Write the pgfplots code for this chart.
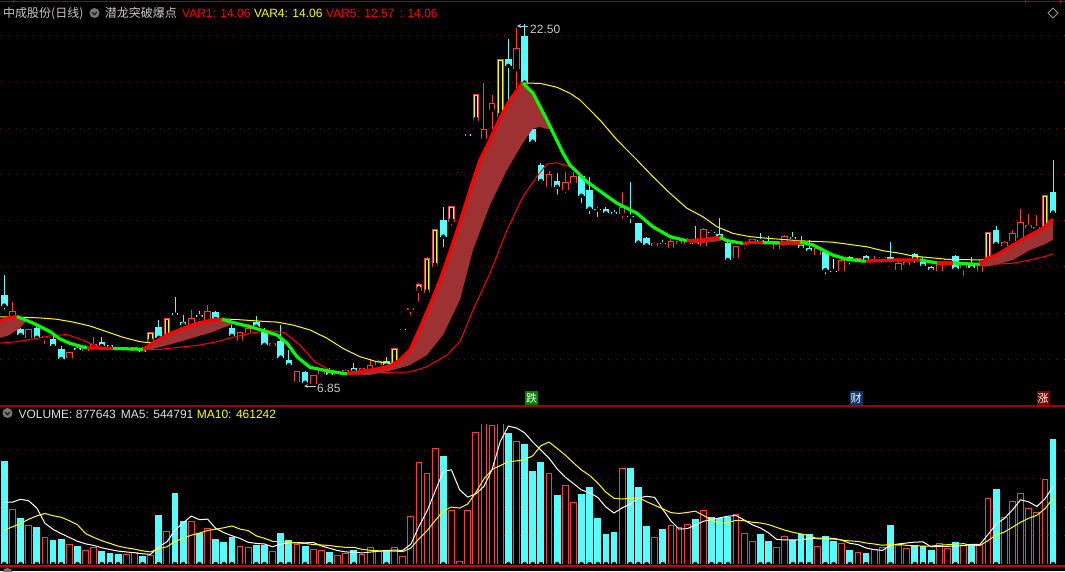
\documentclass[border=0pt]{standalone}
\usepackage{pgfplots}
\pgfplotsset{compat=1.18}
\usepackage{pgfplotstable}
\usepackage{fontspec}
\setmainfont{Liberation Sans}
\newfontfamily\cjk{Noto Sans CJK SC}

\definecolor{cy}{RGB}{84,255,255}
\definecolor{rd}{RGB}{255,60,60}
\definecolor{lred}{RGB}{255,0,0}
\definecolor{yl}{RGB}{255,255,0}
\definecolor{gn}{RGB}{0,255,0}
\definecolor{band}{RGB}{158,50,50}
\definecolor{gridc}{RGB}{140,0,0}
\definecolor{txt}{RGB}{200,200,200}
\definecolor{sep}{RGB}{165,0,0}
\definecolor{botline}{RGB}{200,0,0}
\definecolor{diam}{RGB}{150,150,150}
\definecolor{iconc}{RGB}{120,120,120}
\definecolor{chev}{RGB}{30,30,30}
\definecolor{cgreen}{RGB}{0,128,0}
\definecolor{cblue}{RGB}{16,56,104}
\definecolor{cdred}{RGB}{128,0,0}
\definecolor{vtxt}{RGB}{225,225,225}

\pgfplotsset{
  wick/.style={only marks, mark=none, forget plot,
    error bars/y dir=plus, error bars/y explicit, error bars/error mark=none,
    error bars/error bar style={line width=1pt, draw=#1, solid}},
  body/.style 2 args={only marks, mark=none, forget plot,
    error bars/y dir=plus, error bars/y explicit, error bars/error mark=none,
    error bars/error bar style={line width=#2, draw=#1, solid}},
  bare/.style={scale only axis, width=1065pt, anchor=south west,
    xmin=-0.529, xmax=130.47,
    axis line style={draw=none}, tick style={draw=none}, major tick length=0pt,
    xtick=\empty, yticklabels={}, clip=true},
  pricepanel/.style={bare, at={(0pt,169pt)}, height=382pt, ymin=6.148, ymax=22.693},
  volpanel/.style={bare, at={(0pt,7pt)}, height=139pt, ymin=0, ymax=978.9},
  dotgrid/.style={ymajorgrids, grid style={draw=gridc, line width=1pt, dash pattern=on 1.2pt off 6.8pt}},
  trend/.style={line width=3.2pt, line join=round},
}

% ---------- candles (up, hollow red) ----------
\pgfplotstableread{
i O H L C
1 9.82 10.48 9.79 10.09
3 8.93 9.32 8.72 9.30
5 8.91 9.05 8.57 9.00
8 8.07 8.32 7.99 8.30
10 8.36 8.60 8.33 8.52
11 8.52 8.95 8.50 8.65
15 8.40 8.50 8.38 8.45
16 8.37 8.55 8.21 8.52
23 9.48 10.13 9.45 9.77
25 9.67 10.35 9.65 10.09
29 8.80 9.20 8.78 9.18
30 9.12 9.53 9.10 9.37
33 8.59 8.76 8.40 8.69
36 7.02 7.50 7.00 7.49
38 6.94 7.32 6.88 7.30
39 7.36 7.56 7.15 7.54
41 7.32 7.50 7.30 7.46
42 7.39 7.56 7.37 7.54
44 7.46 7.63 7.44 7.61
45 7.57 8.01 7.55 7.74
46 7.74 7.95 7.72 7.92
59 17.53 19.95 17.50 17.97
60 18.80 19.45 17.86 19.09
63 20.56 22.33 19.66 21.47
67 15.47 16.15 15.29 16.02
69 15.33 16.09 15.11 15.66
70 15.62 16.12 15.43 15.94
76 14.29 15.24 14.03 14.61
80 12.92 13.08 12.83 13.02
82 12.81 13.22 12.66 13.12
83 12.98 13.22 12.79 13.13
84 12.98 13.25 12.95 13.21
86 12.92 13.70 12.90 13.63
90 12.40 12.92 12.34 12.90
91 12.93 13.05 12.70 13.00
92 13.05 13.22 13.00 13.20
95 12.78 13.05 12.70 13.02
96 13.11 13.36 12.85 13.34
100 12.53 12.83 12.37 12.81
103 11.83 12.32 11.80 12.30
105 12.21 12.40 12.18 12.37
107 12.20 12.47 12.18 12.34
108 12.40 12.50 12.30 12.42
110 11.86 12.20 11.75 12.18
111 12.08 12.25 12.05 12.22
115 11.83 12.18 11.75 12.16
118 11.94 12.20 11.53 12.16
120 11.79 12.34 11.77 12.08
123 12.92 13.10 12.73 13.07
124 13.12 13.60 13.10 13.46
125 13.24 14.51 13.20 13.93
126 13.69 14.29 13.52 13.80
127 13.63 14.25 13.60 13.73
}\candR

% ---------- candles (up, yellow signal) ----------
\pgfplotstableread{
i O H L C
18 8.75 9.18 8.75 9.18
20 8.80 9.79 8.80 9.79
48 7.63 8.47 7.63 8.47
50 10.15 10.25 9.82 10.24
51 10.97 11.30 10.42 11.26
52 10.86 12.42 10.86 12.39
53 12.01 13.64 12.01 13.63
55 13.96 14.64 13.70 14.64
58 18.33 19.49 18.33 19.48
61 18.51 21.00 18.51 20.99
121 12.27 13.50 12.27 13.50
128 13.52 15.10 13.52 15.10
}\candY

% ---------- one-price days ----------
\pgfplotstableread{
i P
49 9.30
56 16.10
57 17.71
}\candD

% ---------- flat days ----------
\pgfplotstableread{
i O H L C
102 11.82 12.34 11.82 11.82
116 12.30 12.40 12.20 12.30
}\candW

% ---------- candles (down, cyan) ----------
\pgfplotstableread{
i O H L C
0 10.78 11.65 10.06 10.32
2 9.31 9.35 9.00 9.05
4 9.35 9.40 8.90 8.93
6 8.87 9.05 8.55 8.57
7 8.44 8.57 7.98 8.01
9 8.48 8.57 8.32 8.40
12 8.75 8.95 8.55 8.57
13 8.60 8.63 8.50 8.52
14 8.52 8.55 8.38 8.40
17 8.49 8.55 8.28 8.31
19 9.41 9.70 8.90 8.93
21 10.02 10.70 9.90 9.93
22 9.61 9.92 9.48 9.50
24 9.90 10.09 9.63 9.85
26 10.05 10.10 9.70 9.74
27 9.55 9.60 9.40 9.45
28 9.35 9.47 8.89 9.01
31 9.61 9.87 9.38 9.41
32 9.19 9.37 8.60 8.62
34 8.79 9.48 8.05 8.07
35 7.97 8.40 7.65 7.75
37 7.43 7.50 6.85 6.98
40 7.54 7.63 7.24 7.32
43 7.63 7.82 7.47 7.49
47 7.92 8.08 7.73 7.75
54 14.03 14.59 12.76 13.31
62 21.00 21.86 18.80 20.71
64 22.00 22.50 19.90 19.98
65 17.97 18.15 17.40 17.42
66 16.41 16.51 15.70 15.72
68 15.71 16.05 15.04 15.47
71 15.94 15.96 14.68 15.08
72 15.33 15.88 14.20 14.52
73 14.51 14.61 14.07 14.47
74 14.51 14.60 14.29 14.32
75 14.37 14.46 14.17 14.29
77 14.21 15.68 13.81 14.17
78 13.89 13.90 12.95 13.05
79 13.24 13.31 12.87 12.93
81 13.00 13.16 12.77 12.97
85 13.05 13.77 12.95 13.00
87 13.52 13.60 13.31 13.48
88 13.44 14.12 13.27 13.29
89 13.05 13.10 12.25 12.30
93 13.15 13.47 12.95 13.12
94 13.12 13.34 12.87 13.02
97 13.28 13.51 13.13 13.21
98 12.94 13.34 12.76 12.83
99 12.81 13.16 12.65 12.68
101 12.66 12.70 11.58 11.86
104 12.44 12.46 12.01 12.27
106 12.47 12.50 12.28 12.30
109 12.42 13.09 12.20 12.21
112 12.55 12.59 12.08 12.34
113 12.21 12.44 11.94 12.04
114 12.01 12.05 11.85 11.86
117 12.47 12.50 11.88 11.90
119 12.16 12.44 11.90 11.94
122 13.60 13.77 12.92 12.99
129 15.24 16.63 14.30 14.35
}\candC

% ---------- volume (thousands) ----------
\pgfplotstableread{
i v
1 386
3 273
5 188
8 139
10 96
11 118
15 68
16 85
18 61
20 233
23 304
25 252
29 125
30 118
33 92
36 139
38 106
39 96
41 61
42 75
44 68
45 118
46 92
48 118
49 54
50 336
51 718
52 640
53 816
55 379
56 19
57 379
58 932
59 1020
60 980
61 1000
63 866
67 640
69 554
70 434
76 673
80 188
82 272
83 258
84 279
86 378
90 350
91 216
92 160
95 117
96 195
100 124
103 146
105 82
107 103
108 117
110 134
111 113
115 146
116 113
118 134
120 141
121 462
123 328
124 443
125 497
126 392
127 364
128 596
}\volR

\pgfplotstableread{
i v
0 727
2 325
4 261
6 172
7 176
9 127
12 92
13 78
14 71
17 56
19 346
21 501
22 304
24 219
26 176
27 155
28 191
31 134
32 136
34 219
35 169
37 127
40 85
43 99
47 96
54 762
62 925
64 847
65 656
66 720
68 486
71 493
72 542
73 324
74 211
75 225
77 676
78 542
79 267
81 246
85 317
87 331
88 321
89 331
93 211
94 162
97 167
98 211
99 211
101 197
102 162
104 99
106 77
109 274
112 134
113 127
114 99
117 155
119 141
122 528
129 880
}\volC

\pgfplotstableread{
i m5 m10
0 435 240
1 435 262
2 456 285
3 445 315
4 394 339
5 287 356
6 244 340
7 214 329
8 187 305
9 160 277
10 142 214
11 131 188
12 114 164
13 102 145
14 91 126
15 85 114
16 79 105
17 72 93
18 68 85
19 123 107
20 156 121
21 239 159
22 289 180
23 338 203
24 312 218
25 316 236
26 251 245
27 221 255
28 199 268
29 180 246
30 153 235
31 145 198
32 141 181
33 121 160
34 140 160
35 150 152
36 151 148
37 149 145
38 152 137
39 127 134
40 111 130
41 95 123
42 85 117
43 83 118
44 78 103
45 84 97
46 90 93
47 95 90
48 98 91
49 96 87
50 139 112
51 264 177
52 373 234
53 513 306
54 654 375
55 663 401
56 523 394
57 471 422
58 494 504
59 546 600
60 666 665
61 862 693
62 971 721
63 958 726
64 924 735
65 859 762
66 803 833
67 746 859
68 670 814
69 611 767
70 567 713
71 521 662
72 502 624
73 469 570
74 401 506
75 359 463
76 395 458
77 422 462
78 465 467
79 477 439
80 469 414
81 384 389
82 303 362
83 246 356
84 249 363
85 274 372
86 301 342
87 313 308
88 325 286
89 336 292
90 342 308
91 310 305
92 276 294
93 254 289
94 220 278
95 173 258
96 169 239
97 170 223
98 170 212
99 180 200
100 182 177
101 182 176
102 181 176
103 168 169
104 146 163
105 137 159
106 113 148
107 101 141
108 96 132
109 131 138
110 141 139
111 148 131
112 154 128
113 156 126
114 121 126
115 124 132
116 124 136
117 128 141
118 129 143
119 138 130
120 137 130
121 207 165
122 281 205
123 320 225
124 380 259
125 452 294
126 438 322
127 405 343
128 458 389
129 546 463
}\vma

\begin{document}
\begin{tikzpicture}
\useasboundingbox (0,0) rectangle (1065pt,571pt);
\fill[black] (0,0) rectangle (1065pt,571pt);

% ================= price panel: grid + candles =================
\begin{axis}[pricepanel, dotgrid, ytick={8,10,...,22}]
% wicks
\addplot[wick=rd] table[x=i, y=L, y error plus expr={\thisrow{H}-\thisrow{L}}]{\candR};
\addplot[wick=rd] table[x=i, y=L, y error plus expr={\thisrow{H}-\thisrow{L}}]{\candY};
\addplot[wick=cy] table[x=i, y=L, y error plus expr={\thisrow{H}-\thisrow{L}}]{\candC};
\addplot[wick=white] table[x=i, y=L, y error plus expr={\thisrow{H}-\thisrow{L}}]{\candW};
% bodies
\addplot[body={cy}{6.6pt}] table[x=i, y=C, y error plus expr={max(\thisrow{O}-\thisrow{C},0.045)}]{\candC};
\addplot[body={rd}{6.6pt}] table[x=i, y=O, y error plus expr={max(\thisrow{C}-\thisrow{O},0.045)}]{\candR};
\addplot[body={black}{4.6pt}] table[x=i, y expr={\thisrow{O}+0.0433}, y error plus expr={max(\thisrow{C}-\thisrow{O}-0.0866,0)}]{\candR};
\addplot[body={rd}{6.6pt}] table[x=i, y=O, y error plus expr={max(\thisrow{C}-\thisrow{O},0.045)}]{\candY};
\addplot[body={yl}{4.6pt}] table[x=i, y expr={\thisrow{O}+0.0433}, y error plus expr={max(\thisrow{C}-\thisrow{O}-0.0866,0)}]{\candY};
\addplot[body={black}{2.6pt}] table[x=i, y expr={\thisrow{O}+0.0866}, y error plus expr={max(\thisrow{C}-\thisrow{O}-0.1732,0)}]{\candY};
\addplot[only marks, mark=none, forget plot, error bars/x dir=both, error bars/x fixed=0.36,
  error bars/error mark=none, error bars/error bar style={line width=1.4pt, draw=yl, solid}]
  table[x=i, y=P]{\candD};
\addplot[only marks, mark=none, forget plot, error bars/x dir=both, error bars/x fixed=0.40,
  error bars/error mark=none, error bars/error bar style={line width=1pt, draw=white, solid}]
  table[x=i, y=O]{\candW};
\end{axis}

% ================= price panel: indicator lines (on top) =================
\begin{axis}[pricepanel, ytick=\empty]
% yellow line
\addplot[yl, line width=1pt, line join=round] coordinates {
(-0.53,9.83) (1.19,9.84) (1.56,9.85) (1.93,9.82) (4.39,9.79) (6.48,9.73) (8.45,9.61) (10.54,9.44)
(12.63,9.19) (14.60,8.95) (16.69,8.76) (18.29,8.70) (20.01,9.05) (21.98,9.34) (24.07,9.59)
(25.67,9.70) (26.78,9.74) (28.13,9.73) (32.31,9.63) (33.54,9.61) (35.51,9.48) (37.60,9.27)
(39.69,8.91) (41.66,8.47) (43.75,8.11) (45.84,7.89) (47.44,7.82) (48.3,7.85) (48.67,7.97)
(49.90,8.40) (51.13,9.35) (52.36,10.35) (53.59,11.43) (54.82,12.65) (56.05,13.94) (57.28,15.33)
(58.51,16.63) (59.74,17.50) (60.97,18.45) (62.20,19.23) (63.43,19.83) (63.80,19.96) (65.89,19.95)
(67.98,19.78) (69.58,19.52) (70.81,19.23) (73.27,18.36) (75.36,17.50) (77.82,16.63) (79.79,15.91)
(81.88,15.19) (83.97,14.54) (85.94,14.17) (87.66,13.74) (89.63,13.45) (91.72,13.31) (93.81,13.24)
(97.87,13.13) (101.93,13.07) (106.11,12.87) (108.08,12.70) (110.17,12.59) (111.77,12.47)
(115.95,12.33) (120.01,12.30) (120.6,12.32) (120.87,12.37) (122.10,12.52) (124.07,12.95)
(126.16,13.38) (127.76,13.67) (128.99,14.06)};

% thin red line
\addplot[lred, line width=1pt, line join=round] coordinates {
(-0.53,8.70) (1.56,8.76) (3.53,8.88) (5.62,9.01) (7.71,9.07) (9.68,8.83) (11.77,8.49) (16.69,8.40)
(19.15,8.43) (21.61,8.52) (24.07,8.62) (26.16,8.76) (28.13,8.95) (30.59,9.15) (32.68,9.24)
(34.53,9.14) (36.37,8.62) (38.22,7.88) (40.06,7.53) (41.90,7.36) (43.75,7.36) (46.58,7.43)
(49.90,7.45) (51.99,7.68) (54.45,8.18) (56.05,8.76) (57.65,10.13) (59.74,11.72) (61.83,13.60)
(63.80,15.04) (65.52,15.91) (66.75,16.46) (67.98,16.51) (69.58,16.34)};
\addplot[lred, line width=1pt, line join=round] coordinates {
(117.55,12.19) (120.01,12.08) (122.06,12.12) (124.07,12.16) (126.16,12.30) (128.21,12.47) (128.99,12.57)};

% band fills
\addplot[fill=band, draw=none] coordinates {
(-0.53,9.66) (0.46,9.79) (1.56,9.85) (1.93,9.80) (2.67,9.64) (1.93,9.35) (0.46,9.02) (-0.53,8.93)} --cycle;
\addplot[fill=band, draw=none] coordinates {
(17.06,8.43) (18.29,8.70) (20.01,9.05) (21.98,9.34) (24.07,9.59) (25.67,9.70) (26.78,9.74) (28.13,9.59)
(28.4,9.55) (26.78,9.35) (25.67,9.18) (24.07,9.02) (21.98,8.80) (20.01,8.60) (18.29,8.45) (17.06,8.41)} --cycle;
\addplot[fill=band, draw=none] coordinates {
(42.15,7.38) (43.75,7.46) (45.84,7.58) (47.44,7.71) (48.67,7.97) (49.90,8.40) (51.13,9.35) (52.36,10.35)
(53.59,11.43) (54.82,12.65) (56.05,13.94) (57.28,15.33) (58.51,16.63) (59.74,17.50) (60.97,18.45)
(62.20,19.23) (63.43,19.83) (63.80,19.96) (65.03,19.53) (66.75,18.36) (67.3,17.95)
(66.75,17.98) (65.89,18.06) (65.03,18.00) (63.80,17.37) (61.83,16.20) (59.74,14.68) (57.65,12.73)
(56.05,10.57) (53.96,9.05) (51.99,8.18) (49.90,7.75) (47.81,7.53) (44.98,7.32) (42.15,7.35)} --cycle;
\addplot[fill=band, draw=none] coordinates {
(83.97,13.13) (85.57,13.17) (88.03,13.28) (88.5,13.20) (88.03,13.12) (85.57,13.02) (83.97,13.08)} --cycle;
\addplot[fill=band, draw=none] coordinates {
(93.32,13.05) (95.41,13.04) (97.87,13.07) (98.5,13.02) (97.87,12.95) (95.41,12.95) (93.32,13.00)} --cycle;
\addplot[fill=band, draw=none] coordinates {
(119.6,12.12) (120.01,12.17) (120.87,12.37) (122.10,12.52) (124.07,12.95) (126.16,13.38) (127.76,13.67)
(128.99,14.06) (128.99,13.17) (127.76,12.95) (126.16,12.73) (124.07,12.30) (122.10,12.10) (120.87,12.01)
(120.01,12.06) (119.6,12.10)} --cycle;

% thick trend line (red rising / green falling)
\addplot[lred, trend] coordinates {(-0.53,9.66) (0.46,9.79) (1.56,9.85)};
\addplot[gn, trend] coordinates {(1.56,9.85) (3.53,9.57) (5.62,9.20) (6.85,8.88) (8.08,8.69) (9.68,8.53) (10.17,8.49)};
\addplot[lred, trend] coordinates {(10.17,8.49) (13.37,8.47)};
\addplot[gn, trend] coordinates {(13.37,8.47) (17.06,8.43)};
\addplot[lred, trend] coordinates {(17.06,8.43) (18.29,8.70) (20.01,9.05) (21.98,9.34) (24.07,9.59) (25.67,9.70) (26.78,9.74)};
\addplot[gn, trend] coordinates {(26.78,9.74) (28.13,9.59) (30.22,9.41) (31.82,9.24) (33.54,9.05) (34.77,8.70) (36.00,8.11) (37.60,7.65) (39.69,7.50) (41.66,7.39) (42.15,7.38)};
\addplot[lred, trend] coordinates {(42.15,7.38) (43.75,7.46) (45.84,7.58) (47.44,7.71) (48.67,7.97) (49.90,8.40) (51.13,9.35) (52.36,10.35) (53.59,11.43) (54.82,12.65) (56.05,13.94) (57.28,15.33) (58.51,16.63) (59.74,17.50) (60.97,18.45) (62.20,19.23) (63.43,19.83) (63.80,19.96)};
\addplot[gn, trend] coordinates {(63.80,19.96) (65.03,19.53) (66.75,18.36) (68.72,16.93) (69.58,16.41) (71.67,15.69) (73.64,15.19) (75.36,14.76) (76.59,14.54) (77.82,14.32) (79.79,13.74) (81.88,13.31) (83.97,13.13)};
\addplot[lred, trend] coordinates {(83.97,13.13) (85.57,13.17) (88.03,13.28)};
\addplot[gn, trend] coordinates {(88.03,13.28) (88.89,13.14) (90.86,13.02)};
\addplot[lred, trend] coordinates {(90.86,13.02) (91.72,13.05) (93.32,13.05)};
\addplot[gn, trend] coordinates {(93.32,13.05) (95.41,13.04)};
\addplot[lred, trend] coordinates {(95.41,13.04) (97.87,13.07)};
\addplot[gn, trend] coordinates {(97.87,13.07) (99.47,12.95) (100.70,12.73) (101.93,12.51) (103.65,12.33) (105.62,12.25) (105.99,12.25)};
\addplot[lred, trend] coordinates {(105.99,12.25) (109.80,12.30) (112.63,12.30)};
\addplot[gn, trend] coordinates {(112.63,12.30) (114.72,12.17)};
\addplot[lred, trend] coordinates {(114.72,12.17) (116.69,12.17)};
\addplot[gn, trend] coordinates {(116.69,12.17) (119.15,12.12) (120.01,12.12)};
\addplot[lred, trend] coordinates {(120.01,12.12) (120.87,12.37) (122.10,12.52) (124.07,12.95) (126.16,13.38) (127.76,13.67) (128.99,14.06)};
\end{axis}

% ================= volume panel =================
\begin{axis}[volpanel, dotgrid, ytick={200,400,600,800}]
\addplot[body={cy}{6.8pt}] table[x=i, y expr=0, y error plus=v]{\volC};
\addplot[body={rd}{6.8pt}] table[x=i, y expr=0, y error plus=v]{\volR};
\addplot[body={black}{4.8pt}] table[x=i, y expr=0, y error plus expr={\thisrow{v}-7.04}]{\volR};
\end{axis}
\begin{axis}[volpanel, ytick=\empty]
\addplot[white, line width=1pt, line join=round] table[x=i, y=m5]{\vma};
\addplot[yl, line width=1pt, line join=round] table[x=i, y=m10]{\vma};
\end{axis}

% ================= frame / texts =================
\draw[sep, line width=1pt] (0pt,569pt) -- (1065pt,569pt);
\foreach \xx in {13,1025,1060} \draw[sep, line width=1pt] (\xx pt,567.5pt) -- (\xx pt,571pt);
\draw[sep, line width=1.2pt] (0pt,165pt) -- (1065pt,165pt);
\draw[botline, line width=1.5pt] (0pt,5pt) -- (1065pt,5pt);
\draw[diam, line width=0.8pt] (1053pt,563pt) -- (1058pt,558pt) -- (1053pt,553pt) -- (1048pt,558pt) -- cycle;
\fill[iconc] (7.5pt,-2pt) circle (5pt);

\node[anchor=base west, inner sep=0pt, text=txt, font=\cjk\fontsize{12pt}{14pt}\selectfont] at (3pt,553.5pt) {中成股份(日线)};
\fill[iconc] (94.5pt,558pt) circle (5pt);
\draw[chev, line width=1.3pt] (92pt,559pt) -- (94.5pt,556.3pt) -- (97pt,559pt);
\node[anchor=base west, inner sep=0pt, text=txt, font=\cjk\fontsize{12pt}{14pt}\selectfont] at (104.7pt,553.5pt) {潜龙突破爆点};
\node[anchor=base west, inner sep=0pt, text=lred, font=\fontsize{12pt}{14pt}\selectfont] at (182pt,553.5pt) {VAR1: 14.06};
\node[anchor=base west, inner sep=0pt, text=yl, font=\fontsize{12pt}{14pt}\selectfont] at (254pt,553.5pt) {VAR4: 14.06};
\node[anchor=base west, inner sep=0pt, text=lred, font=\fontsize{12pt}{14pt}\selectfont] at (326pt,553.5pt) {VAR5: 12.57\, : 14.06};

\fill[iconc] (7.5pt,158pt) circle (5pt);
\draw[chev, line width=1.3pt] (5pt,159pt) -- (7.5pt,156.3pt) -- (10pt,159pt);
\node[anchor=base west, inner sep=0pt, text=vtxt, font=\fontsize{12pt}{14pt}\selectfont] at (18.3pt,153pt) {VOLUME: 877643};
\node[anchor=base west, inner sep=0pt, text=vtxt, font=\fontsize{12pt}{14pt}\selectfont] at (120.7pt,153pt) {MA5: 544791};
\node[anchor=base west, inner sep=0pt, text=yl, font=\fontsize{12pt}{14pt}\selectfont] at (196.7pt,153pt) {MA10: 461242};

% high / low marks
\draw[txt, line width=0.8pt, -stealth] (528pt,545pt) -- (517pt,545pt);
\node[anchor=base west, inner sep=0pt, text=txt, font=\fontsize{12pt}{14pt}\selectfont] at (530pt,537pt) {22.50};
\draw[txt, line width=0.8pt, -stealth] (316pt,185pt) -- (304pt,185pt);
\node[anchor=base west, inner sep=0pt, text=txt, font=\fontsize{12pt}{14pt}\selectfont] at (317pt,179pt) {6.85};

% event labels
\node[fill=cgreen, text=white, inner sep=0pt, minimum width=13pt, minimum height=14pt, font=\cjk\fontsize{11pt}{11pt}\selectfont] at (531.5pt,173pt) {跌};
\node[fill=cblue, text=white, inner sep=0pt, minimum width=13pt, minimum height=14pt, font=\cjk\fontsize{11pt}{11pt}\selectfont] at (856pt,173pt) {财};
\node[fill=cdred, text=white, inner sep=0pt, minimum width=13pt, minimum height=14pt, font=\cjk\fontsize{11pt}{11pt}\selectfont] at (1043pt,173pt) {涨};
\end{tikzpicture}
\end{document}
